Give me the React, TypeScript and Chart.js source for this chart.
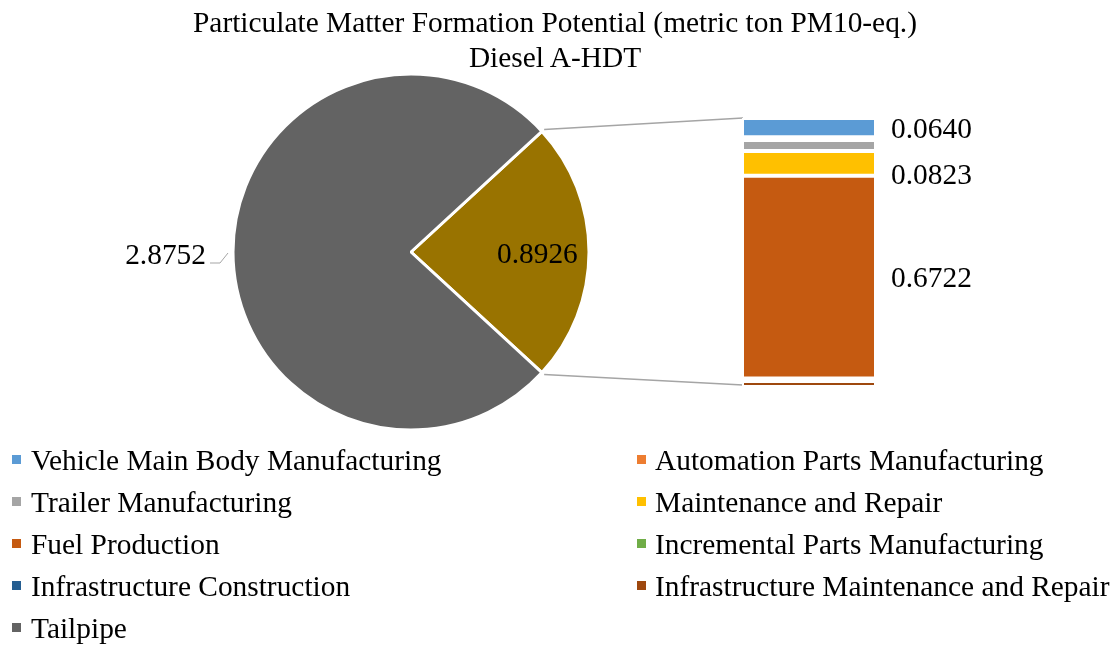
import React, { useEffect, useRef } from 'react';
import { Chart, registerables } from 'chart.js';

Chart.register(...registerables);

const TITLE_LINE_1 = 'Particulate Matter Formation Potential (metric ton PM10-eq.)';
const TITLE_LINE_2 = 'Diesel A-HDT';

const CATEGORIES = [
  'Vehicle Main Body Manufacturing',
  'Automation Parts Manufacturing',
  'Trailer Manufacturing',
  'Maintenance and Repair',
  'Fuel Production',
  'Incremental Parts Manufacturing',
  'Infrastructure Construction',
  'Infrastructure Maintenance and Repair',
  'Tailpipe',
];
const CATEGORY_COLORS = [
  '#5B9BD5',
  '#ED7D31',
  '#A5A5A5',
  '#FFC000',
  '#C55A11',
  '#70AD47',
  '#255E91',
  '#9E480E',
  '#636363',
];

// Breakdown of the "other" slice (top to bottom in the bar)
const BAR_VALUES = [0.064, 0.009, 0.0365, 0.0823, 0.6722, 0.004, 0.0046, 0.02];
const BAR_VALUE_LABELS = ['0.0640', '', '', '0.0823', '0.6722', '', '', ''];

const PIE_LABELS = ['Other', 'Tailpipe'];
const PIE_VALUES = [0.8926, 2.8752];
const PIE_VALUE_LABELS = ['0.8926', '2.8752'];
const PIE_COLORS = ['#997300', '#636363'];

const FONT = "'Liberation Serif', 'Times New Roman', serif";
const FS = 29.4;
const W = 1115;
const H = 646;

export default function App() {
  const pieRef = useRef<HTMLCanvasElement>(null);
  const barRef = useRef<HTMLCanvasElement>(null);

  useEffect(() => {
    if (!pieRef.current || !barRef.current) return;
    const pieTotal = PIE_VALUES.reduce((a, b) => a + b, 0);
    const otherDeg = (PIE_VALUES[0] / pieTotal) * 360;

    const pieLabelPlugin = {
      id: 'pieLabels',
      afterDatasetsDraw(chart: any) {
        const ctx = chart.ctx;
        const meta = chart.getDatasetMeta(0);
        ctx.save();
        ctx.font = `${FS}px ${FONT}`;
        ctx.fillStyle = '#000';
        ctx.textBaseline = 'alphabetic';
        meta.data.forEach((arc: any, i: number) => {
          const p = arc.getProps(['x', 'y', 'startAngle', 'endAngle', 'outerRadius'], true);
          const mid = (p.startAngle + p.endAngle) / 2;
          if (i === 0) {
            const r = p.outerRadius * 0.71;
            ctx.textAlign = 'center';
            ctx.fillText(PIE_VALUE_LABELS[i], p.x + r * Math.cos(mid), p.y + r * Math.sin(mid) + 11);
          } else {
            const ex = p.x + (p.outerRadius + 5) * Math.cos(mid);
            const ey = p.y + (p.outerRadius + 5) * Math.sin(mid);
            ctx.strokeStyle = '#A5A5A5';
            ctx.lineWidth = 1;
            ctx.beginPath();
            ctx.moveTo(ex, ey + 1);
            ctx.lineTo(ex - 8, ey + 11);
            ctx.lineTo(ex - 18, ey + 11);
            ctx.stroke();
            ctx.textAlign = 'right';
            ctx.fillText(PIE_VALUE_LABELS[i], ex - 22, ey + 12);
          }
        });
        ctx.restore();
      },
    };

    const pieChart = new Chart(pieRef.current, {
      type: 'pie',
      data: {
        labels: PIE_LABELS,
        datasets: [
          {
            data: PIE_VALUES,
            backgroundColor: PIE_COLORS,
            borderColor: '#FFFFFF',
            borderWidth: 3,
          },
        ],
      },
      options: {
        responsive: false,
        animation: false,
        devicePixelRatio: 1,
        events: [],
        rotation: 90 - otherDeg / 2,
        layout: { padding: { left: 231.5, right: W - 590.5, top: 72.5, bottom: H - 431.5 } },
        plugins: { legend: { display: false }, tooltip: { enabled: false }, title: { display: false } },
      },
      plugins: [pieLabelPlugin],
    });

    const n = BAR_VALUES.length;
    const barTotal = BAR_VALUES.reduce((a, b) => a + b, 0);
    const datasets = BAR_VALUES.map((v, i) => ({
      label: CATEGORIES[i],
      data: [v],
      backgroundColor: CATEGORY_COLORS[i],
      borderColor: '#FFFFFF',
      borderWidth: 2,
      borderSkipped: false,
      inflateAmount: 0,
      barPercentage: 1,
      categoryPercentage: 1,
    })).reverse();

    const barPlugin = {
      id: 'barExtras',
      beforeDatasetsDraw(chart: any) {
        const ctx = chart.ctx;
        const arc: any = pieChart.getDatasetMeta(0).data[0];
        const p = arc.getProps(['x', 'y', 'startAngle', 'endAngle', 'outerRadius'], true);
        const topEl: any = chart.getDatasetMeta(n - 1).data[0];
        const botEl: any = chart.getDatasetMeta(0).data[0];
        const left = topEl.x - topEl.width / 2 + 1;
        const r = p.outerRadius + 3;
        ctx.save();
        ctx.strokeStyle = '#A5A5A5';
        ctx.lineWidth = 1.5;
        ctx.beginPath();
        ctx.moveTo(p.x + r * Math.cos(p.startAngle), p.y + r * Math.sin(p.startAngle));
        ctx.lineTo(left, topEl.y);
        ctx.moveTo(p.x + r * Math.cos(p.endAngle), p.y + r * Math.sin(p.endAngle));
        ctx.lineTo(left, botEl.base - 2);
        ctx.stroke();
        ctx.restore();
      },
      afterDatasetsDraw(chart: any) {
        const ctx = chart.ctx;
        ctx.save();
        ctx.font = `${FS}px ${FONT}`;
        ctx.fillStyle = '#000';
        ctx.textAlign = 'left';
        ctx.textBaseline = 'alphabetic';
        let prev = -Infinity;
        for (let i = 0; i < n; i++) {
          if (!BAR_VALUE_LABELS[i]) continue;
          const el: any = chart.getDatasetMeta(n - 1 - i).data[0];
          let c = (el.y + el.base) / 2;
          if (c < prev + 46) c = prev + 46;
          prev = c;
          ctx.fillText(BAR_VALUE_LABELS[i], el.x + el.width / 2 + 15, c + 10);
        }
        ctx.restore();
      },
    };

    const barChart = new Chart(barRef.current, {
      type: 'bar',
      data: { labels: [''], datasets },
      options: {
        responsive: false,
        animation: false,
        devicePixelRatio: 1,
        events: [],
        layout: { padding: { left: 742, right: W - 876, top: 118, bottom: H - 387 } },
        scales: {
          x: { display: false, stacked: true },
          y: { display: false, stacked: true, min: 0, max: barTotal },
        },
        plugins: { legend: { display: false }, tooltip: { enabled: false }, title: { display: false } },
      },
      plugins: [barPlugin],
    });

    return () => {
      barChart.destroy();
      pieChart.destroy();
    };
  }, []);

  const legendRows: number[][] = [];
  for (let i = 0; i < CATEGORIES.length; i += 2) {
    legendRows.push(i + 1 < CATEGORIES.length ? [i, i + 1] : [i]);
  }

  return (
    <div
      style={{
        position: 'absolute',
        left: 0,
        top: 0,
        width: W,
        height: H,
        background: '#FFFFFF',
        fontFamily: FONT,
        color: '#000',
        overflow: 'hidden',
      }}
    >
      <canvas ref={pieRef} width={W} height={H} style={{ position: 'absolute', left: 0, top: 0 }} />
      <canvas ref={barRef} width={W} height={H} style={{ position: 'absolute', left: 0, top: 0 }} />
      <div
        style={{
          position: 'absolute',
          left: 0,
          top: 5,
          width: 1110,
          textAlign: 'center',
          fontSize: FS,
          lineHeight: '35px',
          whiteSpace: 'nowrap',
        }}
      >
        <div>{TITLE_LINE_1}</div>
        <div>{TITLE_LINE_2}</div>
      </div>
      {legendRows.map((row, ri) =>
        row.map((ci, col) => (
          <div
            key={ci}
            style={{
              position: 'absolute',
              left: col === 0 ? 12 : 637,
              top: 439 + ri * 42,
              height: 42,
              lineHeight: '42px',
              fontSize: FS,
              whiteSpace: 'nowrap',
            }}
          >
            <span
              style={{
                position: 'absolute',
                left: 0,
                top: 16,
                width: 9,
                height: 9,
                background: CATEGORY_COLORS[ci],
              }}
            />
            <span style={{ position: 'absolute', left: col === 0 ? 19 : 18, top: 0 }}>{CATEGORIES[ci]}</span>
          </div>
        ))
      )}
    </div>
  );
}
